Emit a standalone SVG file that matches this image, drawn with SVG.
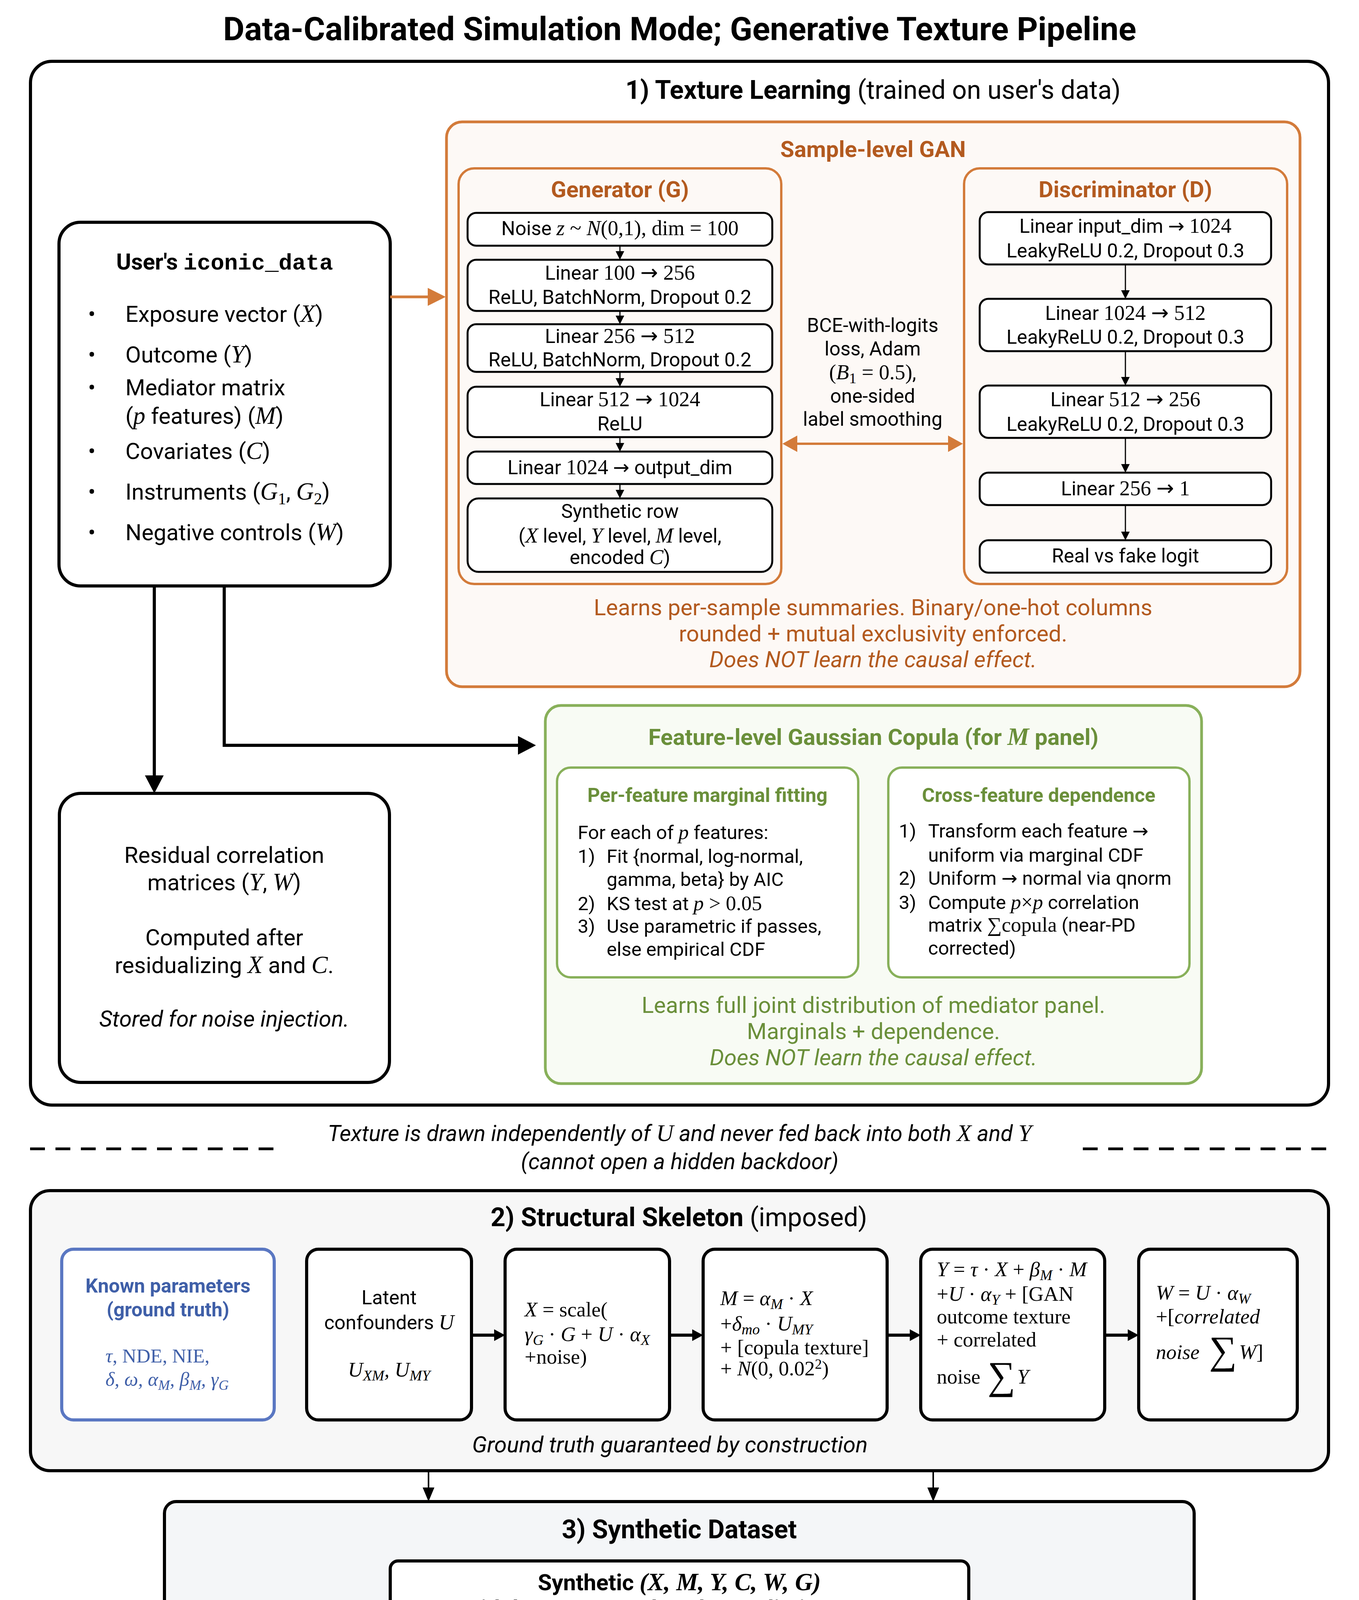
<svg xmlns="http://www.w3.org/2000/svg" width="3479" height="4800" viewBox="0 0 3479 4800">
<style>
text { font-family: Roboto, "Liberation Sans", sans-serif; fill: #000; }
.b { font-weight: bold; }
.i { font-style: italic; }
.c { text-anchor: middle; }
.m { font-family: "Liberation Serif", "DejaVu Serif", serif; font-style: normal; }
.mi { font-family: "Liberation Serif", "DejaVu Serif", serif; font-style: italic; }
text:not(.m):not(.mi) > tspan.m, text:not(.m):not(.mi) > tspan.mi { font-size: 1.08em; }
.ar { font-family: "DejaVu Sans", sans-serif; font-style: normal; font-weight: normal; }
.mono { font-family: "Liberation Mono", "DejaVu Sans Mono", monospace; font-weight: bold; }
.box { fill: #fff; stroke: #000; stroke-width: 8; }
.sbox { fill: #fff; stroke: #000; stroke-width: 5; }
.org { fill: #b35a1f; }
.grn { fill: #6a8f3a; }
.blu { fill: #3f5fa8; }
.f50 { font-size: 50px; }
.f58 { font-size: 58px; }
.f49 { font-size: 49px; }
.f53 { font-size: 53px; }
.conn { fill: none; stroke: #000; }
.oconn { fill: none; stroke: #d37b3a; }
</style>
<defs>
<marker id="mS" viewBox="0 0 22 22" refX="0" refY="11" markerWidth="22" markerHeight="22" markerUnits="userSpaceOnUse" orient="auto"><path d="M0,0 L22,11 L0,22 z" fill="#000"/></marker>
<marker id="mB" viewBox="0 0 46 48" refX="0" refY="24" markerWidth="46" markerHeight="48" markerUnits="userSpaceOnUse" orient="auto"><path d="M0,0 L46,24 L0,48 z" fill="#000"/></marker>
<marker id="mM" viewBox="0 0 28 30" refX="0" refY="15" markerWidth="28" markerHeight="30" markerUnits="userSpaceOnUse" orient="auto"><path d="M0,0 L28,15 L0,30 z" fill="#000"/></marker>
<marker id="mD" viewBox="0 0 36 30" refX="0" refY="15" markerWidth="36" markerHeight="30" markerUnits="userSpaceOnUse" orient="auto"><path d="M0,0 L36,15 L0,30 z" fill="#000"/></marker>
<marker id="mO" viewBox="0 0 46 46" refX="0" refY="23" markerWidth="46" markerHeight="46" markerUnits="userSpaceOnUse" orient="auto"><path d="M0,0 L46,23 L0,46 z" fill="#d37b3a"/></marker>
<marker id="mO2" viewBox="0 0 38 42" refX="0" refY="21" markerWidth="38" markerHeight="42" markerUnits="userSpaceOnUse" orient="auto-start-reverse"><path d="M0,0 L38,21 L0,42 z" fill="#d37b3a"/></marker>
</defs>

<rect width="3479" height="4800" fill="#fff"/>
<text class="b c" x="1740" y="103" font-size="84">Data-Calibrated Simulation Mode; Generative Texture Pipeline</text>

<!-- Section 1 -->
<g id="section1">
<rect x="78" y="157" width="3323" height="2672" rx="55" fill="#fff" stroke="#000" stroke-width="8"/>
<text class="c" x="2235" y="253" font-size="66"><tspan class="b">1) Texture Learning</tspan> (trained on user's data)</text>
</g>

<g id="gan">
<rect x="1143" y="312" width="2185" height="1446" rx="40" fill="#fdf9f6" stroke="#d37b3a" stroke-width="7"/>
<text class="b c org f58" x="2235" y="402">Sample-level GAN</text>
<text class="c org f58" x="2235" y="1575">Learns per-sample summaries. Binary/one-hot columns</text>
<text class="c org f58" x="2235" y="1642">rounded + mutual exclusivity enforced.</text>
<text class="c org f58 i" x="2235" y="1708">Does NOT learn the causal effect.</text>
<text class="c f50" x="2234" y="850">BCE-with-logits</text>
<text class="c f50" x="2234" y="910">loss, Adam</text>
<text class="c f50" x="2234" y="971"><tspan class="m">(</tspan><tspan class="mi">B</tspan><tspan class="m" style="font-size:38px" dy="10">1</tspan><tspan class="m" dy="-10"> = 0.5)</tspan>,</text>
<text class="c f50" x="2234" y="1031">one-sided</text>
<text class="c f50" x="2234" y="1090">label smoothing</text>
</g>

<g id="generator">
<rect x="1174" y="431" width="826" height="1064" rx="40" fill="none" stroke="#d37b3a" stroke-width="6"/>
<text class="b c org f58" x="1587" y="505">Generator (G)</text>
<rect class="sbox" x="1197" y="545" width="780" height="84" rx="22"/>
<text class="c f50" x="1587" y="602">Noise <tspan class="mi"> z</tspan><tspan class="m"> ~ </tspan><tspan class="mi">N</tspan><tspan class="m">(0,1), dim = 100</tspan></text>
<rect class="sbox" x="1197" y="665" width="780" height="131" rx="22"/>
<text class="c f50" x="1587" y="716">Linear <tspan class="m">100 <tspan class="ar">→</tspan> 256</tspan></text>
<text class="c f50" x="1587" y="778">ReLU, BatchNorm, Dropout 0.2</text>
<rect class="sbox" x="1197" y="830" width="780" height="122" rx="22"/>
<text class="c f50" x="1587" y="878">Linear <tspan class="m">256 <tspan class="ar">→</tspan> 512</tspan></text>
<text class="c f50" x="1587" y="938">ReLU, BatchNorm, Dropout 0.2</text>
<rect class="sbox" x="1197" y="990" width="780" height="129" rx="22"/>
<text class="c f50" x="1587" y="1040">Linear <tspan class="m">512 <tspan class="ar">→</tspan> 1024</tspan></text>
<text class="c f50" x="1587" y="1102">ReLU</text>
<rect class="sbox" x="1197" y="1156" width="780" height="83" rx="22"/>
<text class="c f50" x="1587" y="1214">Linear <tspan class="m">1024</tspan> <tspan class="ar">→</tspan> output_dim</text>
<rect class="sbox" x="1197" y="1276" width="780" height="188" rx="28"/>
<text class="c f50" x="1587" y="1326">Synthetic row</text>
<text class="c f50" x="1587" y="1389">(<tspan class="mi">X</tspan> level, <tspan class="mi">Y</tspan> level, <tspan class="mi">M</tspan> level,</text>
<text class="c f50" x="1587" y="1444">encoded <tspan class="mi">C</tspan>)</text>
</g>

<g id="discriminator">
<rect x="2468" y="431" width="827" height="1064" rx="40" fill="none" stroke="#d37b3a" stroke-width="6"/>
<text class="b c org f58" x="2881" y="505">Discriminator (D)</text>
<rect class="sbox" x="2508" y="543" width="746" height="134" rx="22"/>
<text class="c f50" x="2881" y="596">Linear input_dim <tspan class="ar">→</tspan> <tspan class="m">1024</tspan></text>
<text class="c f50" x="2881" y="659">LeakyReLU 0.2, Dropout 0.3</text>
<rect class="sbox" x="2508" y="765" width="746" height="134" rx="22"/>
<text class="c f50" x="2881" y="819">Linear <tspan class="m">1024 <tspan class="ar">→</tspan> 512</tspan></text>
<text class="c f50" x="2881" y="880">LeakyReLU 0.2, Dropout 0.3</text>
<rect class="sbox" x="2508" y="987" width="746" height="134" rx="22"/>
<text class="c f50" x="2881" y="1040">Linear <tspan class="m">512 <tspan class="ar">→</tspan> 256</tspan></text>
<text class="c f50" x="2881" y="1103">LeakyReLU 0.2, Dropout 0.3</text>
<rect class="sbox" x="2508" y="1210" width="746" height="83" rx="22"/>
<text class="c f50" x="2881" y="1268">Linear <tspan class="m">256 <tspan class="ar">→</tspan> 1</tspan></text>
<rect class="sbox" x="2508" y="1383" width="746" height="83" rx="22"/>
<text class="c f50" x="2881" y="1440">Real vs fake logit</text>
</g>

<g id="user-data">
<rect class="box" x="151" y="569" width="848" height="931" rx="55"/>
<text class="c f58" x="575" y="690"><tspan class="b">User's </tspan><tspan class="mono">iconic_data</tspan></text>
<g class="f58">
<text class="c" x="235" y="824">•</text><text x="321" y="824">Exposure vector (<tspan class="mi">X</tspan>)</text>
<text class="c" x="235" y="928">•</text><text x="321" y="928">Outcome (<tspan class="mi">Y</tspan>)</text>
<text class="c" x="235" y="1012">•</text><text x="321" y="1012">Mediator matrix</text>
<text x="321" y="1085">(<tspan class="mi">p</tspan> features) (<tspan class="mi">M</tspan>)</text>
<text class="c" x="235" y="1175">•</text><text x="321" y="1175">Covariates (<tspan class="mi">C</tspan>)</text>
<text class="c" x="235" y="1279">•</text><text x="321" y="1279">Instruments (<tspan class="mi">G</tspan><tspan class="m" style="font-size:42px" dy="12">1</tspan><tspan dy="-12">, </tspan><tspan class="mi">G</tspan><tspan class="m" style="font-size:42px" dy="12">2</tspan><tspan dy="-12">)</tspan></text>
<text class="c" x="235" y="1383">•</text><text x="321" y="1383">Negative controls (<tspan class="mi">W</tspan>)</text>
</g>
</g>

<g id="residual">
<rect class="box" x="152" y="2031" width="845" height="740" rx="55"/>
<text class="c f58" x="574" y="2209">Residual correlation</text>
<text class="c f58" x="574" y="2279">matrices (<tspan class="mi">Y</tspan>, <tspan class="mi">W</tspan>)</text>
<text class="c f58" x="574" y="2420">Computed after</text>
<text class="c f58" x="574" y="2491">residualizing <tspan class="mi">X</tspan> and <tspan class="mi">C</tspan>.</text>
<text class="c f58 i" x="574" y="2628">Stored for noise injection.</text>
</g>

<g id="copula">
<rect x="1396" y="1806" width="1680" height="968" rx="40" fill="#f8fbf4" stroke="#88b05a" stroke-width="7"/>
<text class="b c grn f58" x="2236" y="1907">Feature-level Gaussian Copula (for <tspan class="mi">M</tspan> panel)</text>
<rect x="1426" y="1965" width="771" height="537" rx="35" fill="#fff" stroke="#88b05a" stroke-width="6"/>
<rect x="2274" y="1965" width="771" height="537" rx="35" fill="#fff" stroke="#88b05a" stroke-width="6"/>
<text class="b c grn f50" x="1811" y="2053">Per-feature marginal fitting</text>
<text class="b c grn f50" x="2659" y="2053">Cross-feature dependence</text>
<g class="f49">
<text x="1479" y="2148">For each of <tspan class="mi">p</tspan> features:</text>
<text x="1479" y="2209">1)</text><text x="1553" y="2209">Fit {normal, log-normal,</text>
<text x="1553" y="2268">gamma, beta} by AIC</text>
<text x="1479" y="2330">2)</text><text x="1553" y="2330">KS test at <tspan class="mi">p</tspan><tspan class="m"> &gt; 0.05</tspan></text>
<text x="1479" y="2388">3)</text><text x="1553" y="2388">Use parametric if passes,</text>
<text x="1553" y="2447">else empirical CDF</text>
<text x="2301" y="2144">1)</text><text x="2376" y="2144">Transform each feature <tspan class="ar">→</tspan></text>
<text x="2376" y="2206">uniform via marginal CDF</text>
<text x="2301" y="2265">2)</text><text x="2376" y="2265">Uniform <tspan class="ar">→</tspan> normal via qnorm</text>
<text x="2301" y="2327">3)</text><text x="2376" y="2327">Compute <tspan class="mi">p</tspan><tspan class="m">×</tspan><tspan class="mi">p</tspan> correlation</text>
<text x="2376" y="2385">matrix <tspan class="m">∑copula</tspan> (near-PD</text>
<text x="2376" y="2444">corrected)</text>
</g>
<text class="c grn f58" x="2236" y="2593">Learns full joint distribution of mediator panel.</text>
<text class="c grn f58" x="2236" y="2660">Marginals + dependence.</text>
<text class="c grn f58 i" x="2236" y="2727">Does NOT learn the causal effect.</text>
</g>

<!-- separator -->
<g id="separator">
<line x1="77" y1="2941" x2="705" y2="2941" stroke="#000" stroke-width="7" stroke-dasharray="38 27"/>
<line x1="2772" y1="2941" x2="3401" y2="2941" stroke="#000" stroke-width="7" stroke-dasharray="38 27"/>
<text class="c i" x="1740" y="2921" font-size="57">Texture is drawn independently of <tspan class="mi">U</tspan> and never fed back into both <tspan class="mi">X</tspan> and <tspan class="mi">Y</tspan></text>
<text class="c i" x="1740" y="2993" font-size="57">(cannot open a hidden backdoor)</text>
</g>

<!-- Section 2 -->
<g id="section2">
<rect x="78" y="3048" width="3323" height="717" rx="50" fill="#f7f7f7" stroke="#000" stroke-width="8"/>
<text class="c" x="1738" y="3139" font-size="66"><tspan class="b">2) Structural Skeleton</tspan> (imposed)</text>
<text class="c i" x="1715" y="3718" font-size="58">Ground truth guaranteed by construction</text>
</g>

<g id="known-params">
<rect x="158" y="3198" width="544" height="437" rx="30" fill="#fff" stroke="#5a77c2" stroke-width="8"/>
<text class="b c blu f50" x="430" y="3309">Known parameters</text>
<text class="b c blu f50" x="430" y="3370">(ground truth)</text>
<text class="m blu f50" x="270" y="3488"><tspan class="mi">τ</tspan>, NDE, NIE,</text>
<text class="mi blu f50" x="270" y="3548">δ, ω, α<tspan font-size="36" dy="10">M</tspan><tspan dy="-10">, β</tspan><tspan font-size="36" dy="10">M</tspan><tspan dy="-10">, γ</tspan><tspan font-size="36" dy="10">G</tspan></text>
</g>

<g id="latent">
<rect class="box" x="785" y="3198" width="422" height="437" rx="30"/>
<text class="c f50" x="996" y="3339">Latent</text>
<text class="c f50" x="996" y="3403">confounders <tspan class="mi">U</tspan></text>
<text class="c mi f53" x="996" y="3524">U<tspan font-size="38" dy="10">XM</tspan><tspan dy="-10">, U</tspan><tspan font-size="38" dy="10">MY</tspan></text>
</g>

<g id="x-eq">
<rect class="box" x="1293" y="3198" width="421" height="437" rx="30"/>
<text class="m f53" x="1343" y="3370"><tspan class="mi">X</tspan> = scale(</text>
<text class="m f53" x="1343" y="3433"><tspan class="mi">γ</tspan><tspan class="mi" font-size="38" dy="10">G</tspan><tspan dy="-10"> · </tspan><tspan class="mi">G</tspan> + <tspan class="mi">U</tspan> · <tspan class="mi">α</tspan><tspan class="mi" font-size="38" dy="10">X</tspan></text>
<text class="m f53" x="1343" y="3491">+noise)</text>
</g>

<g id="m-eq">
<rect class="box" x="1800" y="3198" width="471" height="437" rx="30"/>
<text class="m f53" x="1844" y="3341"><tspan class="mi">M</tspan> = <tspan class="mi">α</tspan><tspan class="mi" font-size="38" dy="10">M</tspan><tspan dy="-10"> · </tspan><tspan class="mi">X</tspan></text>
<text class="m f53" x="1844" y="3406">+<tspan class="mi">δ</tspan><tspan class="mi" font-size="38" dy="10">mo</tspan><tspan dy="-10"> · </tspan><tspan class="mi">U</tspan><tspan class="mi" font-size="38" dy="10">MY</tspan></text>
<text class="m f53" x="1844" y="3467">+ [copula texture]</text>
<text class="m f53" x="1844" y="3521">+ <tspan class="mi">N</tspan>(0, 0.02<tspan font-size="36" dy="-17">2</tspan><tspan dy="17">)</tspan></text>
</g>

<g id="y-eq">
<rect class="box" x="2357" y="3198" width="471" height="437" rx="30"/>
<text class="m f53" x="2398" y="3267"><tspan class="mi">Y</tspan> = <tspan class="mi">τ</tspan> · <tspan class="mi">X</tspan> + <tspan class="mi">β</tspan><tspan class="mi" font-size="38" dy="10">M</tspan><tspan dy="-10"> · </tspan><tspan class="mi">M</tspan></text>
<text class="m f53" x="2398" y="3330">+<tspan class="mi">U</tspan> · <tspan class="mi">α</tspan><tspan class="mi" font-size="38" dy="10">Y</tspan><tspan dy="-10"> + [GAN</tspan></text>
<text class="m f53" x="2398" y="3388">outcome texture</text>
<text class="m f53" x="2398" y="3447">+ correlated</text>
<text class="m f53" x="2398" y="3542">noise</text>
<text class="m" x="2528" y="3555" font-size="100">∑</text>
<text class="mi f53" x="2604" y="3542">Y</text>
</g>

<g id="w-eq">
<rect class="box" x="2915" y="3198" width="406" height="437" rx="30"/>
<text class="m f53" x="2959" y="3327"><tspan class="mi">W</tspan> = <tspan class="mi">U</tspan> · <tspan class="mi">α</tspan><tspan class="mi" font-size="38" dy="10">W</tspan></text>
<text class="m f53" x="2959" y="3388">+[<tspan class="mi">correlated</tspan></text>
<text class="mi f53" x="2959" y="3479">noise</text>
<text class="m" x="3095" y="3490" font-size="100">∑</text>
<text class="m f53" x="3172" y="3479"><tspan class="mi">W</tspan>]</text>
</g>

<!-- Section 3 -->
<g id="section3">
<rect x="421" y="3844" width="2636" height="387" rx="30" fill="#f4f6f8" stroke="#000" stroke-width="8"/>
<text class="b c" x="1739" y="3938" font-size="66">3) Synthetic Dataset</text>
</g>
<g id="synthetic-output">
<rect class="box" x="999" y="3996" width="1481" height="188" rx="20"/>
<text class="b c f58" x="1739" y="4071">Synthetic <tspan class="mi">(X, M, Y, C, W, G)</tspan></text>
<text class="b c f58" x="1739" y="4138">with known ground truth + realistic texture</text>
</g>

<g id="summary">
<rect x="632" y="4306" width="2213" height="442" rx="40" fill="#fdfbf4" stroke="#000" stroke-width="8"/>
<text class="c" x="1739" y="4414" font-size="72">GAN learns nuisance texture for <tspan class="m">X, Y, C</tspan>. Copula learns nuisance</text>
<text class="c" x="1739" y="4505" font-size="72">texture for <tspan class="m">M</tspan>. Causal effect (<tspan class="m">τ, NDE, NIE</tspan>) is NEVER learned,</text>
<text class="c" x="1739" y="4595" font-size="72">guaranteeing a closed form by imposed structural equations.</text>
<text class="c" x="1739" y="4686" font-size="72">Used for data-calibrated sensitivity and prospective analyses.</text>
</g>

<g id="connectors">
<path class="oconn" d="M999,760 H1095" stroke-width="7" marker-end="url(#mO)"/>
<path class="oconn" d="M2041,1136 H2427" stroke-width="6" marker-start="url(#mO2)" marker-end="url(#mO2)"/>
<path class="conn" d="M395,1500 V1985" stroke-width="8" marker-end="url(#mB)"/>
<path class="conn" d="M574,1500 V1908 H1326" stroke-width="8" marker-end="url(#mB)"/>
<path class="conn" d="M1587,629 V643" stroke-width="3" marker-end="url(#mS)"/>
<path class="conn" d="M1587,796 V808" stroke-width="3" marker-end="url(#mS)"/>
<path class="conn" d="M1587,952 V968" stroke-width="3" marker-end="url(#mS)"/>
<path class="conn" d="M1587,1119 V1134" stroke-width="3" marker-end="url(#mS)"/>
<path class="conn" d="M1587,1239 V1254" stroke-width="3" marker-end="url(#mS)"/>
<path class="conn" d="M2881,677 V743" stroke-width="3" marker-end="url(#mS)"/>
<path class="conn" d="M2881,899 V965" stroke-width="3" marker-end="url(#mS)"/>
<path class="conn" d="M2881,1121 V1188" stroke-width="3" marker-end="url(#mS)"/>
<path class="conn" d="M2881,1293 V1361" stroke-width="3" marker-end="url(#mS)"/>
<path class="conn" d="M1207,3418 H1265" stroke-width="8" marker-end="url(#mM)"/>
<path class="conn" d="M1714,3418 H1772" stroke-width="8" marker-end="url(#mM)"/>
<path class="conn" d="M2271,3418 H2329" stroke-width="8" marker-end="url(#mM)"/>
<path class="conn" d="M2828,3418 H2887" stroke-width="8" marker-end="url(#mM)"/>
<path class="conn" d="M1097,3769 V3808" stroke-width="4" marker-end="url(#mD)"/>
<path class="conn" d="M2389,3769 V3808" stroke-width="4" marker-end="url(#mD)"/>
</g>
</svg>
